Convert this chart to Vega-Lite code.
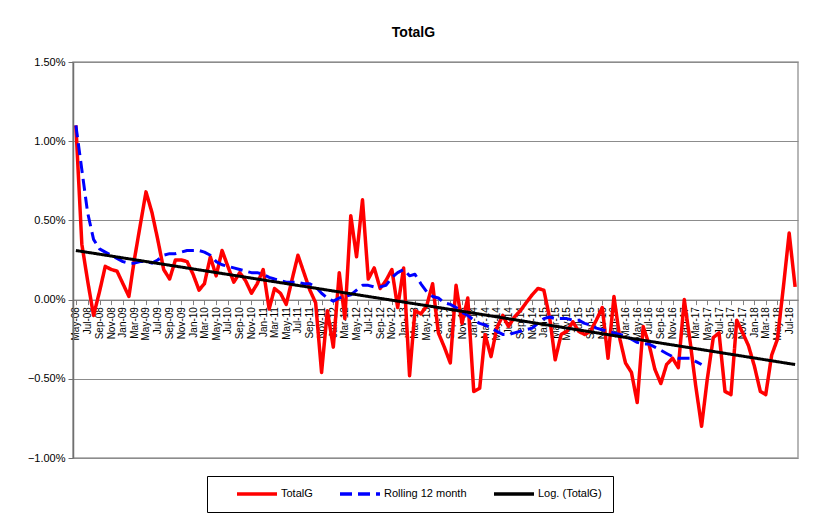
{
  "$schema": "https://vega.github.io/schema/vega-lite/v6.json",
  "width": 725,
  "height": 396,
  "autosize": "none",
  "padding": {"left": 73, "top": 62, "right": 16, "bottom": 61},
  "background": "white",
  "config": {
    "font": "Liberation Sans",
    "view": {"stroke": "#a0a0a0", "strokeWidth": 1.5},
    "legend": {
      "title": null,
      "orient": "none",
      "legendX": 134,
      "legendY": 414,
      "direction": "horizontal",
      "symbolType": "M2.4,0H10.4",
      "symbolSize": 100,
      "symbolStrokeWidth": 3.5,
      "labelFontSize": 11,
      "labelFont": "Liberation Sans",
      "labelColor": "#000000",
      "labelOffset": 49,
      "columnPadding": 8,
      "padding": 11,
      "strokeColor": "#000000",
      "fillColor": "#ffffff"
    }
  },
  "title": {
    "text": "TotalG",
    "fontSize": 14,
    "fontWeight": "bold",
    "font": "Liberation Sans",
    "color": "#000000",
    "anchor": "middle",
    "frame": "group",
    "dx": -22,
    "offset": 16
  },
  "datasets": {
    "main": [
      {"d": "2008-05-01", "t": 1.10, "r": 1.10},
      {"d": "2008-06-01", "t": 0.35, "r": 0.82},
      {"d": "2008-07-01", "t": 0.12, "r": 0.55},
      {"d": "2008-08-01", "t": -0.10, "r": 0.38},
      {"d": "2008-09-01", "t": 0.05, "r": 0.32},
      {"d": "2008-10-01", "t": 0.21, "r": 0.30},
      {"d": "2008-11-01", "t": 0.19, "r": 0.28},
      {"d": "2008-12-01", "t": 0.18, "r": 0.26},
      {"d": "2009-01-01", "t": 0.10, "r": 0.24},
      {"d": "2009-02-01", "t": 0.02, "r": 0.23},
      {"d": "2009-03-01", "t": 0.25, "r": 0.23},
      {"d": "2009-04-01", "t": 0.47, "r": 0.24},
      {"d": "2009-05-01", "t": 0.68, "r": 0.24},
      {"d": "2009-06-01", "t": 0.55, "r": 0.23},
      {"d": "2009-07-01", "t": 0.38, "r": 0.25},
      {"d": "2009-08-01", "t": 0.19, "r": 0.28},
      {"d": "2009-09-01", "t": 0.13, "r": 0.29},
      {"d": "2009-10-01", "t": 0.25, "r": 0.29},
      {"d": "2009-11-01", "t": 0.25, "r": 0.30},
      {"d": "2009-12-01", "t": 0.24, "r": 0.31},
      {"d": "2010-01-01", "t": 0.16, "r": 0.31},
      {"d": "2010-02-01", "t": 0.06, "r": 0.31},
      {"d": "2010-03-01", "t": 0.10, "r": 0.30},
      {"d": "2010-04-01", "t": 0.27, "r": 0.28},
      {"d": "2010-05-01", "t": 0.15, "r": 0.24},
      {"d": "2010-06-01", "t": 0.31, "r": 0.22},
      {"d": "2010-07-01", "t": 0.21, "r": 0.21},
      {"d": "2010-08-01", "t": 0.11, "r": 0.20},
      {"d": "2010-09-01", "t": 0.17, "r": 0.19},
      {"d": "2010-10-01", "t": 0.12, "r": 0.18},
      {"d": "2010-11-01", "t": 0.04, "r": 0.17},
      {"d": "2010-12-01", "t": 0.10, "r": 0.17},
      {"d": "2011-01-01", "t": 0.19, "r": 0.16},
      {"d": "2011-02-01", "t": -0.06, "r": 0.14},
      {"d": "2011-03-01", "t": 0.07, "r": 0.13},
      {"d": "2011-04-01", "t": 0.04, "r": 0.12},
      {"d": "2011-05-01", "t": -0.03, "r": 0.11},
      {"d": "2011-06-01", "t": 0.13, "r": 0.11},
      {"d": "2011-07-01", "t": 0.28, "r": 0.11},
      {"d": "2011-08-01", "t": 0.17, "r": 0.10},
      {"d": "2011-09-01", "t": 0.06, "r": 0.10},
      {"d": "2011-10-01", "t": -0.02, "r": 0.08},
      {"d": "2011-11-01", "t": -0.46, "r": 0.04},
      {"d": "2011-12-01", "t": -0.07, "r": 0.01},
      {"d": "2012-01-01", "t": -0.30, "r": -0.01},
      {"d": "2012-02-01", "t": 0.17, "r": 0.01},
      {"d": "2012-03-01", "t": -0.12, "r": 0.02},
      {"d": "2012-04-01", "t": 0.53, "r": 0.03},
      {"d": "2012-05-01", "t": 0.27, "r": 0.06},
      {"d": "2012-06-01", "t": 0.63, "r": 0.09},
      {"d": "2012-07-01", "t": 0.13, "r": 0.09},
      {"d": "2012-08-01", "t": 0.20, "r": 0.08},
      {"d": "2012-09-01", "t": 0.07, "r": 0.08},
      {"d": "2012-10-01", "t": 0.12, "r": 0.09},
      {"d": "2012-11-01", "t": 0.19, "r": 0.14},
      {"d": "2012-12-01", "t": -0.05, "r": 0.17},
      {"d": "2013-01-01", "t": 0.20, "r": 0.19},
      {"d": "2013-02-01", "t": -0.48, "r": 0.15},
      {"d": "2013-03-01", "t": -0.07, "r": 0.16},
      {"d": "2013-04-01", "t": -0.09, "r": 0.10},
      {"d": "2013-05-01", "t": -0.04, "r": 0.05},
      {"d": "2013-06-01", "t": 0.10, "r": 0.02},
      {"d": "2013-07-01", "t": -0.21, "r": 0.01},
      {"d": "2013-08-01", "t": -0.30, "r": -0.02},
      {"d": "2013-09-01", "t": -0.40, "r": -0.03},
      {"d": "2013-10-01", "t": 0.09, "r": -0.05},
      {"d": "2013-11-01", "t": -0.15, "r": -0.08},
      {"d": "2013-12-01", "t": 0.01, "r": -0.10},
      {"d": "2014-01-01", "t": -0.58, "r": -0.13},
      {"d": "2014-02-01", "t": -0.56, "r": -0.15},
      {"d": "2014-03-01", "t": -0.22, "r": -0.16},
      {"d": "2014-04-01", "t": -0.36, "r": -0.18},
      {"d": "2014-05-01", "t": -0.18, "r": -0.20},
      {"d": "2014-06-01", "t": -0.10, "r": -0.22},
      {"d": "2014-07-01", "t": -0.17, "r": -0.22},
      {"d": "2014-08-01", "t": -0.11, "r": -0.21},
      {"d": "2014-09-01", "t": -0.07, "r": -0.20},
      {"d": "2014-10-01", "t": -0.02, "r": -0.19},
      {"d": "2014-11-01", "t": 0.03, "r": -0.18},
      {"d": "2014-12-01", "t": 0.07, "r": -0.15},
      {"d": "2015-01-01", "t": 0.06, "r": -0.12},
      {"d": "2015-02-01", "t": -0.12, "r": -0.11},
      {"d": "2015-03-01", "t": -0.38, "r": -0.12},
      {"d": "2015-04-01", "t": -0.22, "r": -0.12},
      {"d": "2015-05-01", "t": -0.20, "r": -0.12},
      {"d": "2015-06-01", "t": -0.14, "r": -0.13},
      {"d": "2015-07-01", "t": -0.20, "r": -0.13},
      {"d": "2015-08-01", "t": -0.22, "r": -0.15},
      {"d": "2015-09-01", "t": -0.20, "r": -0.16},
      {"d": "2015-10-01", "t": -0.13, "r": -0.18},
      {"d": "2015-11-01", "t": -0.05, "r": -0.19},
      {"d": "2015-12-01", "t": -0.37, "r": -0.20},
      {"d": "2016-01-01", "t": 0.02, "r": -0.21},
      {"d": "2016-02-01", "t": -0.25, "r": -0.22},
      {"d": "2016-03-01", "t": -0.40, "r": -0.23},
      {"d": "2016-04-01", "t": -0.46, "r": -0.25},
      {"d": "2016-05-01", "t": -0.65, "r": -0.27},
      {"d": "2016-06-01", "t": -0.17, "r": -0.28},
      {"d": "2016-07-01", "t": -0.28, "r": -0.28},
      {"d": "2016-08-01", "t": -0.44, "r": -0.30},
      {"d": "2016-09-01", "t": -0.53, "r": -0.32},
      {"d": "2016-10-01", "t": -0.41, "r": -0.34},
      {"d": "2016-11-01", "t": -0.37, "r": -0.36},
      {"d": "2016-12-01", "t": -0.43, "r": -0.37},
      {"d": "2017-01-01", "t": 0.00, "r": -0.37},
      {"d": "2017-02-01", "t": -0.27, "r": -0.37},
      {"d": "2017-03-01", "t": -0.54, "r": -0.39},
      {"d": "2017-04-01", "t": -0.80, "r": -0.41},
      {"d": "2017-05-01", "t": -0.50},
      {"d": "2017-06-01", "t": -0.24},
      {"d": "2017-07-01", "t": -0.21},
      {"d": "2017-08-01", "t": -0.58},
      {"d": "2017-09-01", "t": -0.60},
      {"d": "2017-10-01", "t": -0.13},
      {"d": "2017-11-01", "t": -0.21},
      {"d": "2017-12-01", "t": -0.29},
      {"d": "2018-01-01", "t": -0.42},
      {"d": "2018-02-01", "t": -0.58},
      {"d": "2018-03-01", "t": -0.60},
      {"d": "2018-04-01", "t": -0.35},
      {"d": "2018-05-01", "t": -0.25},
      {"d": "2018-06-01", "t": 0.08},
      {"d": "2018-07-01", "t": 0.42},
      {"d": "2018-08-01", "t": 0.08}
    ],
    "trend": [
      {"d": "2008-05-01", "v": 0.31},
      {"d": "2013-07-01", "v": -0.05},
      {"d": "2018-08-01", "v": -0.41}
    ]
  },
  "encoding": {
    "x": {
      "field": "d",
      "type": "temporal",
      "scale": {"type": "utc", "domain": ["2008-04-16", "2018-08-16"]},
      "axis": {
        "title": null,
        "orient": "bottom",
        "offset": -158.4,
        "grid": false,
        "domain": true,
        "domainColor": "#808080",
        "domainWidth": 1,
        "ticks": true,
        "tickColor": "#808080",
        "tickSize": 5,
        "tickCount": {"interval": "month", "step": 2},
        "format": "%b-%y",
        "labelAngle": -90,
        "labelFontSize": 10,
        "labelFont": "Liberation Sans",
        "labelColor": "#000000",
        "labelPadding": 2,
        "labelOverlap": false,
        "labelFlush": false,
        "labelBound": false
      }
    }
  },
  "layer": [
    {
      "data": {"name": "main"},
      "mark": {"type": "line", "strokeWidth": 3.5, "strokeJoin": "round"},
      "encoding": {
        "y": {
          "field": "t",
          "type": "quantitative",
          "scale": {"domain": [-1, 1.5], "nice": false, "zero": false},
          "axis": {
            "title": null,
            "values": [-1, -0.5, 0, 0.5, 1, 1.5],
            "labelExpr": "format(datum.value, '.2f') + '%'",
            "labelFontSize": 11,
            "labelFont": "Liberation Sans",
            "labelColor": "#000000",
            "labelPadding": 3,
            "grid": true,
            "gridColor": "#8c8c8c",
            "gridWidth": 1,
            "domainColor": "#707070",
            "domainWidth": 1.5,
            "tickColor": "#707070",
            "tickSize": 5
          }
        },
        "color": {
          "datum": "TotalG",
          "type": "nominal",
          "scale": {
            "domain": ["TotalG", "Rolling 12 month", "Log. (TotalG)"],
            "range": ["#ff0000", "#0000ff", "#000000"]
          }
        },
        "strokeDash": {
          "datum": "TotalG",
          "type": "nominal",
          "scale": {
            "domain": ["TotalG", "Rolling 12 month", "Log. (TotalG)"],
            "range": [[1, 0], [12, 6], [1, 0]]
          }
        }
      }
    },
    {
      "data": {"name": "main"},
      "transform": [{"filter": "isValid(datum.r)"}],
      "mark": {"type": "line", "strokeWidth": 3, "strokeJoin": "round"},
      "encoding": {
        "y": {"field": "r", "type": "quantitative"},
        "color": {"datum": "Rolling 12 month", "type": "nominal"},
        "strokeDash": {"datum": "Rolling 12 month", "type": "nominal"}
      }
    },
    {
      "data": {"name": "trend"},
      "mark": {"type": "line", "strokeWidth": 3},
      "encoding": {
        "y": {"field": "v", "type": "quantitative"},
        "color": {"datum": "Log. (TotalG)", "type": "nominal"},
        "strokeDash": {"datum": "Log. (TotalG)", "type": "nominal"}
      }
    }
  ]
}
